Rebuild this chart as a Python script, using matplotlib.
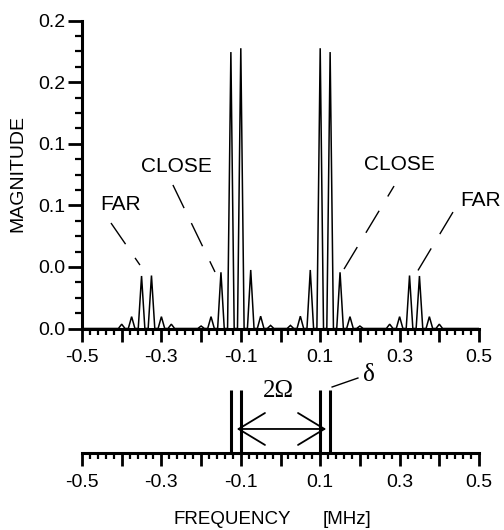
import numpy as np
import matplotlib
matplotlib.use("Agg")
import matplotlib.pyplot as plt
from matplotlib.ticker import FixedLocator, MultipleLocator

plt.rcParams['font.family'] = ['Liberation Sans', 'DejaVu Sans']
plt.rcParams['axes.unicode_minus'] = False

# ---- data ----
line_freq = [-0.400, -0.375, -0.350, -0.325, -0.300, -0.275,
             -0.200, -0.175, -0.150, -0.125, -0.100, -0.075, -0.050, -0.025,
             0.025, 0.050, 0.075, 0.100, 0.125, 0.150, 0.175, 0.200,
             0.275, 0.300, 0.325, 0.350, 0.375, 0.400]
line_mag = [0.0028, 0.0077, 0.0341, 0.0344, 0.0077, 0.0028,
            0.0016, 0.0077, 0.0365, 0.1795, 0.1820, 0.0380, 0.0080, 0.0020,
            0.0020, 0.0080, 0.0380, 0.1820, 0.1795, 0.0365, 0.0077, 0.0016,
            0.0028, 0.0077, 0.0344, 0.0341, 0.0077, 0.0028]
carrier_lines = [-0.125, -0.100, 0.100, 0.125]

y_ticks = [0.00, 0.04, 0.08, 0.12, 0.16, 0.20]
y_tick_labels = ['0.0', '0.0', '0.1', '0.1', '0.2', '0.2']
x_ticks = [-0.5, -0.4, -0.3, -0.2, -0.1, 0.0, 0.1, 0.2, 0.3, 0.4, 0.5]
x_tick_labels = ['-0.5', '', '-0.3', '', '-0.1', '', '0.1', '', '0.3', '', '0.5']

annotations = [  # text, text pos, leader start, leader end
    ('FAR',   (-0.404, 0.0802), (-0.427, 0.0685), (-0.354, 0.0412)),
    ('CLOSE', (-0.261, 0.1049), (-0.271, 0.0932), (-0.165, 0.0367)),
    ('CLOSE', (0.2985, 0.1062), (0.160, 0.0386), (0.286, 0.0925)),
    ('FAR',   (0.505, 0.0834), (0.4345, 0.0756), (0.344, 0.0367)),
]

half_width = 0.025 / 3  # spectral sample spacing

fig = plt.figure(figsize=(5.04, 5.30), dpi=100)
W, H = 504, 530

def style_xaxis(ax):
    ax.set_xlim(-0.5, 0.5)
    ax.xaxis.set_major_locator(FixedLocator(x_ticks))
    ax.set_xticklabels(x_tick_labels)
    ax.xaxis.set_minor_locator(MultipleLocator(0.02))
    ax.tick_params(axis='x', which='major', direction='out', length=9, width=2.0,
                   labelsize=14, pad=6)
    ax.tick_params(axis='x', which='minor', direction='out', length=4.5, width=1.6)
    ax.spines['bottom'].set_linewidth(2.2)
    ax.spines['top'].set_visible(False)
    ax.spines['right'].set_visible(False)

# ---- top spectrum axes ----
ax = fig.add_axes([82 / W, 1 - 328.5 / H, 397 / W, 308 / H])
xs, ys = [-0.5], [0.0]
for f, m in zip(line_freq, line_mag):
    xs += [f - half_width, f, f + half_width]
    ys += [0.0, m, 0.0]
xs.append(0.5); ys.append(0.0)
ax.plot(xs, ys, color='black', lw=1.1, solid_joinstyle='miter')
ax.set_ylim(0, 0.2)
ax.yaxis.set_major_locator(FixedLocator(y_ticks))
ax.set_yticklabels(y_tick_labels)
ax.yaxis.set_minor_locator(MultipleLocator(0.01))
ax.tick_params(axis='y', which='major', direction='out', length=10, width=2.0,
               labelsize=14, pad=2)
ax.tick_params(axis='y', which='minor', direction='out', length=5, width=1.6)
ax.spines['left'].set_linewidth(2.2)
style_xaxis(ax)

for txt, tpos, p0, p1 in annotations:
    ax.text(tpos[0], tpos[1], txt, ha='center', va='center', fontsize=15,
            clip_on=False)
    ax.plot([p0[0], p1[0]], [p0[1], p1[1]], color='black', lw=1.0,
            linestyle=(0, (18.5, 12)), clip_on=False)

fig.text(18 / W, 1 - 173 / H, 'MAGNITUDE', rotation=90, ha='center',
         va='center', fontsize=14)

# ---- bottom schematic axes ----
ax2 = fig.add_axes([82 / W, 1 - 453 / H, 397 / W, 88 / H])
ax2.set_ylim(0, 1)
ax2.spines['left'].set_visible(False)
ax2.set_yticks([])
ax2.patch.set_visible(False)
style_xaxis(ax2)
ax2.vlines(carrier_lines, 0, 0.716, color='black', lw=2.2)
ax2.annotate('', xy=(-0.110, 0.273), xytext=(0.115, 0.273),
             arrowprops=dict(arrowstyle='<->, head_length=1.9, head_width=1.15',
                             lw=1.3, color='black', shrinkA=0, shrinkB=0,
                             mutation_scale=10))
ax2.text(-0.005, 0.705, '2\u03A9', ha='center', va='center', fontsize=18,
         family=['Liberation Serif', 'DejaVu Serif'])
ax2.plot([0.13, 0.195], [0.75, 0.852], color='black', lw=1.0)
ax2.text(0.223, 0.886, '\u03B4', ha='center', va='center', fontsize=18,
         family=['Liberation Serif', 'DejaVu Serif'], clip_on=False)

fig.text(232 / W, 1 - 520 / H, 'FREQUENCY', ha='center', va='center', fontsize=13.5)
fig.text(347.5 / W, 1 - 520 / H, '[MHz]', ha='center', va='center', fontsize=13.5)

fig.savefig('out.png', dpi=100)
